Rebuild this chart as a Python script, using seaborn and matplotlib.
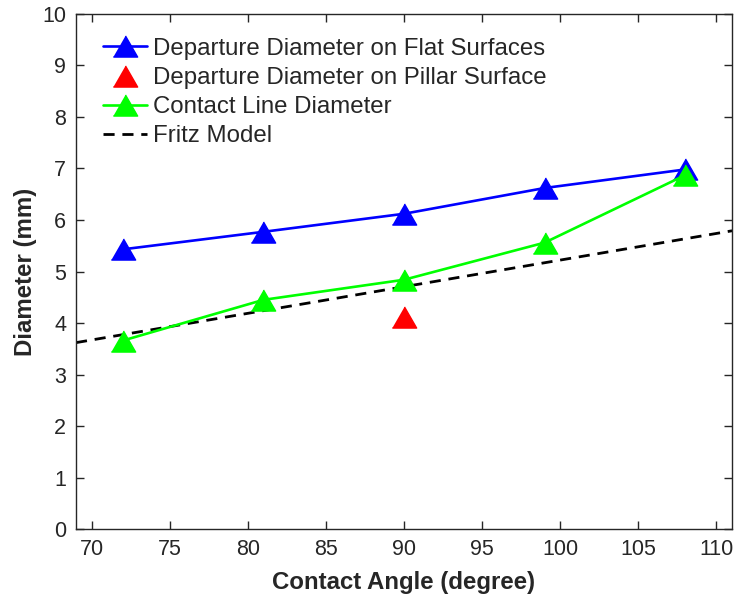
import matplotlib
matplotlib.use("Agg")
import matplotlib.pyplot as plt
import seaborn as sns
import pandas as pd

# Measured bubble diameters versus surface contact angle
contact_angle = [72, 81, 90, 99, 108]
departure_flat = [5.43, 5.77, 6.12, 6.62, 6.98]
contact_line = [3.66, 4.45, 4.84, 5.56, 6.87]
pillar_angle = [90]
departure_pillar = [4.12]
# Fritz correlation evaluated at the ends of the angle axis
fritz_angle = [69, 111]
fritz_diameter = [3.62, 5.79]

x_ticks = list(range(70, 111, 5))
y_ticks = list(range(0, 11, 1))

sns.set_style("ticks")
plt.rcParams["font.family"] = ["Liberation Sans", "DejaVu Sans"]

TEXT = "#262626"
# slightly wide triangle, flat base
TRI = [(-1.15, -1.0), (1.15, -1.0), (0.0, 1.0)]

fig = plt.figure(figsize=(7.38, 6.0), dpi=100)
ax = fig.add_axes([0.103, 0.118, 0.889, 0.859])

flat_df = pd.DataFrame({"angle": contact_angle, "d": departure_flat})
line_df = pd.DataFrame({"angle": contact_angle, "d": contact_line})
pillar_df = pd.DataFrame({"angle": pillar_angle, "d": departure_pillar})
fritz_df = pd.DataFrame({"angle": fritz_angle, "d": fritz_diameter})

mk = dict(marker=TRI, markersize=17.5, markeredgewidth=1.0)

sns.lineplot(data=fritz_df, x="angle", y="d", ax=ax, color="black",
             linestyle=(0, (4, 2.8)), linewidth=2.0, label="Fritz Model",
             zorder=2)
sns.lineplot(data=flat_df, x="angle", y="d", ax=ax, color="#0000ff",
             markeredgecolor="#0000ff", linewidth=1.9,
             label="Departure Diameter on Flat Surfaces", zorder=3, **mk)
sns.lineplot(data=line_df, x="angle", y="d", ax=ax, color="#00ff00",
             markeredgecolor="#00ff00", linewidth=1.9,
             label="Contact Line Diameter", zorder=4, **mk)
sns.lineplot(data=pillar_df, x="angle", y="d", ax=ax, color="#ff0000",
             markeredgecolor="#ff0000", linestyle="none",
             label="Departure Diameter on Pillar Surface", zorder=4, **mk)

ax.set_xlim(69, 111)
ax.set_ylim(0, 10)
ax.set_xticks(x_ticks)
ax.set_yticks(y_ticks)
ax.tick_params(direction="in", top=True, right=True, length=6, width=1.0,
               labelsize=15.5, colors=TEXT, pad=7)
for side in ["top", "right", "bottom", "left"]:
    ax.spines[side].set_visible(True)
    ax.spines[side].set_linewidth(1.0)
    ax.spines[side].set_color(TEXT)

ax.set_xlabel("Contact Angle (degree)", fontsize=17.3, fontweight="bold",
              color=TEXT, labelpad=8)
ax.set_ylabel("Diameter (mm)", fontsize=17.3, fontweight="bold",
              color=TEXT, labelpad=4)

handles, labels = ax.get_legend_handles_labels()
order = ["Departure Diameter on Flat Surfaces",
         "Departure Diameter on Pillar Surface",
         "Contact Line Diameter",
         "Fritz Model"]
hmap = dict(zip(labels, handles))
ax.legend([hmap[k] for k in order], order, loc="upper left",
          bbox_to_anchor=(0.027, 0.972), borderaxespad=0, frameon=False,
          fontsize=17.3, handlelength=1.83, handletextpad=0.25,
          labelspacing=0.3, labelcolor=TEXT)

fig.savefig("out.png", dpi=100)
